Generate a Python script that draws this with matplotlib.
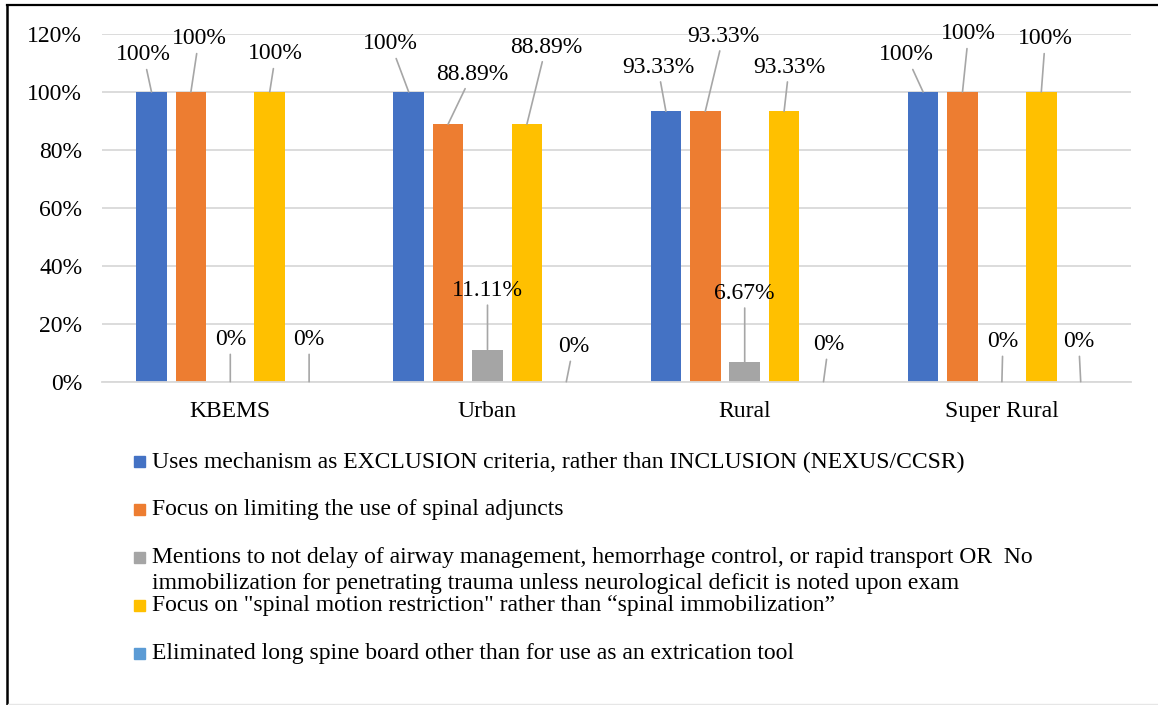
import matplotlib.pyplot as plt
from matplotlib.lines import Line2D
from matplotlib.patches import Rectangle

categories = ['KBEMS', 'Urban', 'Rural', 'Super Rural']
series_names = [
    'Uses mechanism as EXCLUSION criteria, rather than INCLUSION (NEXUS/CCSR)',
    'Focus on limiting the use of spinal adjuncts',
    'Mentions to not delay of airway management, hemorrhage control, or rapid transport OR  No\n'
    'immobilization for penetrating trauma unless neurological deficit is noted upon exam',
    'Focus on "spinal motion restriction" rather than \u201cspinal immobilization\u201d',
    'Eliminated long spine board other than for use as an extrication tool',
]
exclusion = [1.0, 1.0, 0.9333, 1.0]
limiting_adjuncts = [1.0, 0.8889, 0.9333, 1.0]
no_delay = [0.0, 0.1111, 0.0667, 0.0]
motion_restriction = [1.0, 0.8889, 0.9333, 1.0]
no_long_board = [0.0, 0.0, 0.0, 0.0]
values = [exclusion, limiting_adjuncts, no_delay, motion_restriction, no_long_board]
colors = ['#4472C4', '#ED7D31', '#A5A5A5', '#FFC000', '#5B9BD5']

# data label offsets (pixels, dx right / dy up) from each bar top, per series then category
label_offsets = [
    [(-8, 37), (-18, 48), (-8, 44), (-17, 37)],
    [(8, 53), (24, 50), (18, 75), (6, 58)],
    [(0, 42), (0, 59), (0, 69), (1, 40)],
    [(6, 38), (19, 77), (5, 44), (4, 53)],
    [(0, 42), (7, 35), (5, 37), (-2, 40)],
]


def fmt(v):
    s = '%.2f' % (v * 100)
    if s.endswith('.00'):
        s = s[:-3]
    return s + '%'


def main():
    plt.rcParams['font.family'] = ['Liberation Serif', 'DejaVu Serif']
    fs = 17
    W, H = 1158, 705
    fig = plt.figure(figsize=(W / 100, H / 100), dpi=100)
    ax = fig.add_axes([101.7 / W, 1 - 381.7 / H, (1130.5 - 101.7) / W, (381.7 - 34) / H])

    step = 0.1532
    width = 0.119
    xs = list(range(len(categories)))
    for j, vals in enumerate(values):
        pos = [x + (j - 2) * step for x in xs]
        ax.bar(pos, vals, width=width, color=colors[j], zorder=2)
        for i, v in enumerate(vals):
            dx, dy = label_offsets[j][i]
            ax.annotate(fmt(v), xy=(pos[i], v), xytext=(dx, dy),
                        textcoords='offset pixels', ha='center', va='center',
                        fontsize=fs, color='#000000',
                        arrowprops=dict(arrowstyle='-', color='#A6A6A6', lw=1.2,
                                        shrinkA=1, shrinkB=0))

    ax.set_xlim(-0.5, 3.5)
    ax.set_ylim(0, 1.2)
    ax.set_yticks([0, 0.2, 0.4, 0.6, 0.8, 1.0, 1.2])
    ax.set_yticklabels(['0%', '20%', '40%', '60%', '80%', '100%', '120%'], fontsize=fs)
    ax.set_xticks(xs)
    ax.set_xticklabels(categories, fontsize=fs)
    ax.tick_params(axis='both', length=0)
    ax.tick_params(axis='y', pad=14)
    ax.tick_params(axis='x', pad=14)
    ax.yaxis.grid(True, color='#D9D9D9', lw=1.3)
    ax.set_axisbelow(True)
    for side in ['top', 'right', 'left']:
        ax.spines[side].set_visible(False)
    ax.spines['bottom'].set_color('#D9D9D9')
    ax.spines['bottom'].set_linewidth(1.3)

    # legend drawn by hand so the entries keep their fixed spacing
    y0 = 461.5
    for j, name in enumerate(series_names):
        yc = y0 + j * 48
        fig.patches.append(Rectangle((134 / W, 1 - (yc + 5.5) / H), 11 / W, 11 / H,
                                     transform=fig.transFigure, color=colors[j]))
        fig.text(152 / W, 1 - (yc - 10) / H, name, ha='left', va='top',
                 fontsize=fs, linespacing=1.27)

    # frame around the picture
    fig.add_artist(Line2D([7 / W, 1], [1 - 5 / H, 1 - 5 / H], color='black', lw=1.6))
    fig.add_artist(Line2D([7.5 / W, 7.5 / W], [0, 1 - 5 / H], color='black', lw=1.8))
    fig.add_artist(Line2D([8 / W, 1], [1 - 703.5 / H, 1 - 703.5 / H], color='#E6E6E6', lw=1))

    fig.savefig('out.png', dpi=100)


if __name__ == '__main__':
    main()
